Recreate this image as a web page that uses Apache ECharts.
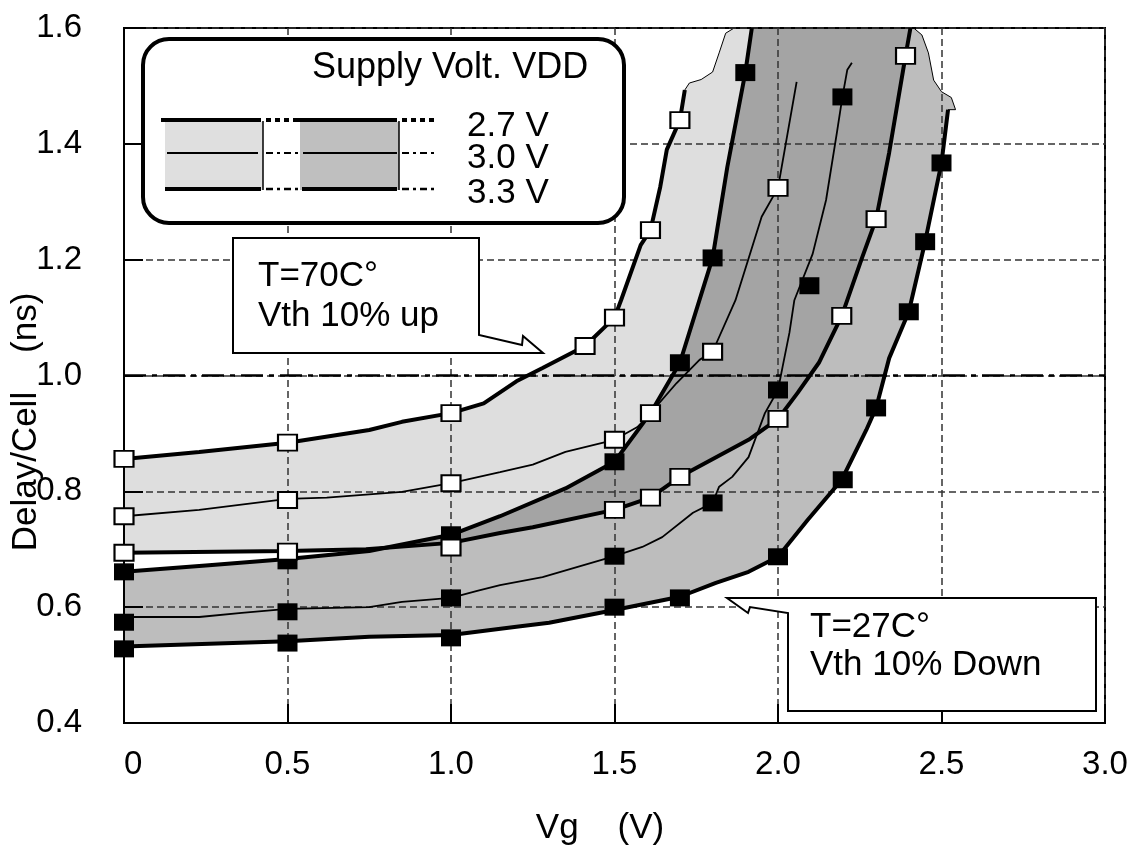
<!DOCTYPE html>
<html><head><meta charset="utf-8">
<script src="https://cdn.jsdelivr.net/npm/echarts@6/dist/echarts.min.js"></script>
<style>html,body{margin:0;padding:0;background:#fff}#c{width:1134px;height:857px}</style>
</head><body><div id="c"></div>
<script>
const FONT = 'Liberation Sans';
const xTickLabels = ['0', '0.5', '1.0', '1.5', '2.0', '2.5', '3.0'];
const yTickLabels = ['0.4', '0.6', '0.8', '1.0', '1.2', '1.4', '1.6'];
const vddLabels = ['2.7 V', '3.0 V', '3.3 V'];

// T=70C, Vth 10% up  (white squares)
const a27 = [[0,0.856],[0.23,0.868],[0.5,0.884],[0.75,0.906],[0.85,0.92],[1.0,0.935],[1.1,0.952],[1.2,0.99],[1.28,1.013],[1.41,1.051],[1.5,1.10],[1.52,1.13],[1.58,1.225],[1.61,1.251],[1.64,1.326],[1.66,1.39],[1.70,1.441],[1.715,1.493]];
const a27Marks = [[0,0.856],[0.5,0.884],[1.0,0.935],[1.41,1.051],[1.5,1.10],[1.61,1.251],[1.70,1.441]];
const a30 = [[0,0.757],[0.23,0.768],[0.5,0.787],[0.62,0.789],[0.85,0.799],[1.0,0.814],[1.15,0.833],[1.25,0.846],[1.35,0.868],[1.5,0.889],[1.57,0.911],[1.61,0.935],[1.69,0.987],[1.76,1.027],[1.80,1.041],[1.87,1.13],[1.95,1.274],[2.0,1.324],[2.057,1.507]];
const a30Marks = [[0,0.757],[0.5,0.785],[1.0,0.814],[1.5,0.889],[1.61,0.935],[1.80,1.041],[2.0,1.324]];
const a33 = [[0,0.694],[0.5,0.697],[0.74,0.70],[1.0,0.711],[1.15,0.728],[1.25,0.738],[1.5,0.768],[1.61,0.789],[1.70,0.825],[1.91,0.889],[2.0,0.925],[2.06,0.97],[2.125,1.022],[2.195,1.103],[2.255,1.20],[2.30,1.27],[2.34,1.385],[2.39,1.552],[2.405,1.6]];
const a33Marks = [[0,0.694],[0.5,0.696],[1.0,0.703],[1.5,0.768],[1.61,0.789],[1.70,0.825],[2.0,0.925],[2.195,1.103],[2.30,1.27],[2.39,1.552]];
const aTopEdge = [[1.729,1.505],[1.765,1.511],[1.80,1.524],[1.82,1.557],[1.84,1.591],[1.866,1.6]];

// T=27C, Vth 10% down  (black squares)
const b27 = [[0,0.661],[0.25,0.672],[0.5,0.683],[0.75,0.697],[1.0,0.725],[1.15,0.757],[1.35,0.805],[1.5,0.851],[1.61,0.935],[1.70,1.022],[1.80,1.203],[1.845,1.36],[1.90,1.523],[1.92,1.6]];
const b27Marks = [[0,0.661],[0.5,0.68],[1.0,0.725],[1.5,0.851],[1.70,1.022],[1.80,1.203],[1.90,1.523]];
const b30 = [[0,0.583],[0.23,0.583],[0.36,0.59],[0.5,0.597],[0.75,0.60],[0.85,0.609],[1.0,0.616],[1.08,0.628],[1.15,0.638],[1.28,0.652],[1.5,0.688],[1.585,0.704],[1.646,0.721],[1.74,0.763],[1.80,0.78],[1.82,0.808],[1.86,0.825],[1.91,0.859],[1.96,0.935],[2.0,0.975],[2.014,1.015],[2.035,1.074],[2.05,1.13],[2.106,1.21],[2.147,1.303],[2.18,1.419],[2.197,1.481],[2.212,1.528],[2.226,1.54]];
const b30Marks = [[0,0.574],[0.5,0.592],[1.0,0.616],[1.5,0.688],[1.80,0.78],[2.0,0.975],[2.096,1.155],[2.197,1.481]];
const b33 = [[0,0.532],[0.5,0.541],[0.75,0.549],[1.0,0.552],[1.2,0.566],[1.3,0.573],[1.5,0.595],[1.70,0.618],[1.81,0.642],[1.91,0.661],[2.0,0.687],[2.09,0.75],[2.195,0.82],[2.27,0.906],[2.30,0.944],[2.34,1.03],[2.40,1.11],[2.45,1.231],[2.50,1.367],[2.52,1.459]];
const b33Marks = [[0,0.528],[0.5,0.538],[1.0,0.547],[1.5,0.60],[1.70,0.616],[2.0,0.687],[2.198,0.82],[2.30,0.944],[2.40,1.11],[2.45,1.231],[2.50,1.367]];
const bTopEdge = [[2.415,1.6],[2.44,1.588],[2.46,1.557],[2.476,1.51],[2.50,1.49],[2.53,1.48],[2.543,1.459]];

function band(upper, edge, lower, fill) {
  return {
    type: 'custom', z: 1, silent: true, data: [[1, 1]],
    renderItem: function (params, api) {
      const pts = upper.concat(edge, lower.slice().reverse()).map(p => api.coord(p));
      return { type: 'polygon', shape: { points: pts }, style: { fill: fill, stroke: '#000', lineWidth: 1 } };
    }
  };
}
function curve(data, w) {
  return { type: 'line', z: 3, silent: true, data: data, showSymbol: false, symbol: 'none',
    lineStyle: { color: '#000', width: w }, animation: false };
}
function marks(data, white) {
  return { type: 'scatter', z: white ? 5 : 4, silent: true, data: data, symbol: 'rect',
    symbolSize: white ? [19, 16] : [20, 17],
    itemStyle: { color: white ? '#fff' : '#000', borderColor: '#000', borderWidth: white ? 2 : 0, opacity: 1 } };
}

const series = [
  band(a27, aTopEdge, a33, 'rgba(0,0,0,0.13)'),
  band(b27, bTopEdge, b33, 'rgba(0,0,0,0.26)'),
  curve(b27, 4), curve(b30, 1.8), curve(b33, 4),
  curve(a27, 4), curve(a30, 1.8), curve(a33, 4),
  marks(b27Marks, false), marks(b30Marks, false), marks(b33Marks, false),
  marks(a27Marks, true), marks(a30Marks, true), marks(a33Marks, true)
];
series[4].markLine = { silent: true, symbol: ['none', 'none'], label: { show: false },
  lineStyle: { color: '#000', width: 2.5, type: [22, 6, 5, 6] }, data: [{ yAxis: 1.0 }] };

function txt(s, x, y, size) {
  return { type: 'text', z: 12, style: { text: s, x: x, y: y, fill: '#000', font: size + 'px "' + FONT + '"', textVerticalAlign: 'middle' } };
}
function ln(x1, y1, x2, y2, w, dash) {
  return { type: 'line', z: 12, shape: { x1, y1, x2, y2 }, style: { stroke: '#000', lineWidth: w, lineDash: dash || null } };
}
const graphics = [
  { type: 'rect', z: 10, shape: { x: 143, y: 39, width: 481, height: 184, r: 26 }, style: { fill: '#fff', stroke: '#000', lineWidth: 4 } },
  txt('Supply Volt. VDD', 312, 68, 36),
  { type: 'rect', z: 11, shape: { x: 165, y: 122, width: 98, height: 68 }, style: { fill: '#dfdfdf' } },
  { type: 'rect', z: 11, shape: { x: 300, y: 122, width: 99, height: 68 }, style: { fill: '#bfbfbf' } },
  ln(263, 121, 263, 190, 1.5), ln(399, 121, 399, 190, 1.5),
  ln(161, 120, 261, 120, 4), ln(167, 153, 258, 153, 1.8), ln(165, 189, 261, 189, 4),
  ln(298, 120, 397, 120, 4), ln(303, 153, 397, 153, 1.8), ln(302, 189, 397, 189, 4),
  ln(266, 120, 298, 120, 4, [5, 4]), ln(402, 120, 438, 120, 4, [5, 4]),
  ln(266, 153, 302, 153, 2, [7, 4, 3, 4]), ln(402, 153, 438, 153, 2, [7, 4, 3, 4]),
  ln(266, 189, 302, 189, 2.5, [7, 4, 3, 4]), ln(402, 189, 438, 189, 2.5, [7, 4, 3, 4]),
  txt(vddLabels[0], 467, 126, 35), txt(vddLabels[1], 467, 158, 35), txt(vddLabels[2], 467, 193, 35),
  { type: 'polygon', z: 10, shape: { points: [[233, 238], [479, 238], [479, 335], [522, 345], [523, 336], [543, 353], [233, 353]] },
    style: { fill: '#fff', stroke: '#000', lineWidth: 2 } },
  txt('T=70C°', 258, 276, 35), txt('Vth 10% up', 258, 316, 35),
  { type: 'polygon', z: 10, shape: { points: [[727, 598], [1096, 598], [1096, 711], [788, 711], [788, 613], [750, 607], [748, 613]] },
    style: { fill: '#fff', stroke: '#000', lineWidth: 2 } },
  txt('T=27C°', 810, 627, 35), txt('Vth 10% Down', 810, 665, 35)
];

const chart = echarts.init(document.getElementById('c'), null, { renderer: 'canvas' });
chart.setOption({
  animation: false,
  backgroundColor: '#fff',
  grid: { left: 124, right: 29, top: 28, bottom: 134, show: true, borderColor: '#000', borderWidth: 2,
    containLabel: false, outerBoundsMode: 'none' },
  xAxis: {
    type: 'value', min: 0, max: 3, interval: 0.5, z: 2,
    name: 'Vg    (V)', nameLocation: 'middle', nameGap: 88, nameMoveOverlap: false,
    nameTextStyle: { fontSize: 35, color: '#000', fontFamily: FONT, padding: [0, 29, 0, 0] },
    axisLine: { lineStyle: { color: '#000', width: 2 } },
    axisTick: { inside: true, length: 19, lineStyle: { color: '#000', width: 2 } },
    axisLabel: { margin: 25, fontSize: 33, color: '#000', fontFamily: FONT, alignMinLabel: 'left',
      formatter: v => xTickLabels[Math.round(v / 0.5)] },
    splitLine: { show: true, lineStyle: { color: '#333', width: 1.5, type: [7, 4] } }
  },
  yAxis: {
    type: 'value', min: 0.4, max: 1.6, interval: 0.2, z: 2,
    name: 'Delay/Cell    (ns)', nameLocation: 'middle', nameGap: 80, nameMoveOverlap: false,
    nameTextStyle: { fontSize: 35, color: '#000', fontFamily: FONT, padding: [0, 93, 0, 0] },
    axisLine: { lineStyle: { color: '#000', width: 2 } },
    axisTick: { inside: true, length: 19, lineStyle: { color: '#000', width: 2 } },
    axisLabel: { margin: 42, fontSize: 33, color: '#000', fontFamily: FONT,
      formatter: v => yTickLabels[Math.round((v - 0.4) / 0.2)] },
    splitLine: { show: true, lineStyle: { color: '#333', width: 1.5, type: [7, 4] } }
  },
  series: series,
  graphic: { elements: graphics }
});
</script></body></html>
